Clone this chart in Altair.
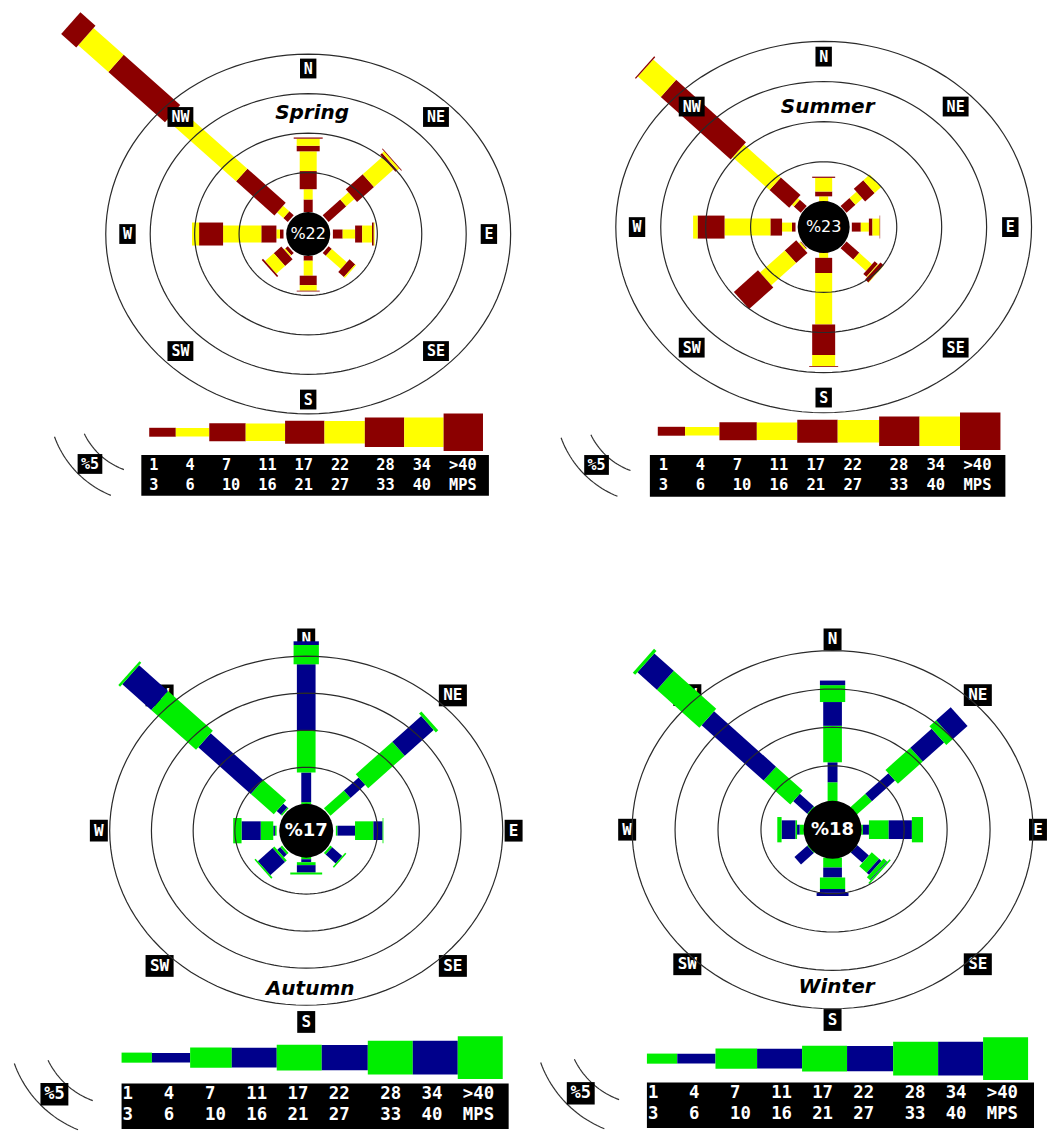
import math
import altair as alt
import pandas as pd

# ---------------- data ----------------
DIRECTIONS = ["N", "NE", "E", "SE", "S", "SW", "W", "NW"]
SEASONS = ["Spring", "Summer", "Autumn", "Winter"]
CALM = [22, 23, 17, 18]                      # % calm shown in the centre
RING_STEP = 5                                # % per ring
SPEED_FROM = ["1", "4", "7", "11", "17", "22", "28", "34", ">40"]
SPEED_TO = ["3", "6", "10", "16", "21", "27", "33", "40", "MPS"]

# % frequency of each speed class (1-3 ... >40 mps) per direction
SPRING = {
    "N":  [1.6, 1.3, 2.3, 2.5, 0.7, 0.9, 0.15, 0, 0],
    "NE": [2.8, 1.3, 2.7, 3.1, 0.3, 0.3, 0.1, 0, 0],
    "E":  [1.1, 1.4, 0.8, 1.1, 0.2, 0.1, 0, 0, 0],
    "SE": [0.5, 2.4, 0.9, 0.15, 0, 0, 0, 0, 0],
    "S":  [0.6, 1.9, 1.2, 0.7, 0.1, 0, 0, 0, 0],
    "SW": [0.4, 0.2, 1.2, 1.4, 0.2, 0, 0, 0, 0],
    "W":  [0.4, 0.4, 1.7, 4.3, 2.7, 0.8, 0, 0, 0],
    "NW": [0.7, 1.0, 6.1, 11.0, 9.0, 4.8, 2.4, 0, 0],
}
SUMMER = {
    "N":  [0.1, 0.6, 0.6, 1.7, 0.15, 0, 0, 0, 0],
    "NE": [1.4, 1.1, 1.5, 1.0, 0, 0, 0, 0, 0],
    "E":  [1.0, 0.9, 0.4, 0.8, 0.05, 0, 0, 0, 0],
    "SE": [2.0, 2.0, 0.5, 0.1, 0.5, 0.05, 0, 0, 0],
    "S":  [0.1, 0.6, 1.9, 6.4, 3.8, 1.4, 0.1, 0, 0],
    "SW": [0.1, 0.2, 1.8, 3.9, 3.8, 0, 0, 0, 0],
    "W":  [0.4, 1.1, 1.3, 5.1, 3.0, 0.5, 0, 0, 0],
    "NW": [1.1, 0.3, 3.1, 5.8, 11.0, 3.6, 0.15, 0, 0],
}
AUTUMN = {
    "N":  [0.3, 4.0, 5.6, 9.0, 2.6, 0.5, 0, 0, 0],
    "NE": [3.4, 2.5, 6.2, 4.9, 0.4, 0, 0, 0, 0],
    "E":  [0.2, 2.1, 2.2, 1.1, 0.1, 0, 0, 0, 0],
    "SE": [0.3, 1.7, 0.2, 0, 0, 0, 0, 0, 0],
    "S":  [0.3, 0.4, 0.4, 1.0, 0, 0, 0.25, 0, 0],
    "SW": [0.3, 0.5, 0.3, 2.5, 0.2, 0, 0, 0, 0],
    "W":  [0.2, 0.2, 1.5, 2.3, 1.0, 0, 0, 0, 0],
    "NW": [0.2, 0.7, 3.9, 8.9, 7.6, 4.9, 0.3, 0, 0],
}
WINTER = {
    "N":  [2.85, 2.6, 4.75, 3.1, 2.2, 0.6, 0, 0, 0],
    "NE": [2.6, 3.8, 4.1, 3.5, 1.1, 2.4, 0, 0, 0],
    "E":  [0.2, 0.7, 2.3, 2.7, 1.3, 0, 0, 0, 0],
    "SE": [0.2, 1.9, 1.2, 0.4, 0.5, 0.1, 0.2, 0, 0],
    "S":  [0.2, 0.1, 1.3, 1.3, 1.5, 0.5, 0, 0.4, 0],
    "SW": [0.3, 2.1, 0, 0, 0, 0, 0, 0, 0],
    "W":  [0.5, 0.3, 0.2, 1.6, 0.5, 0, 0, 0, 0],
    "NW": [0.3, 2.3, 4.4, 10.2, 7.0, 3.2, 0.4, 0, 0],
}
SEASON_DATA = [SPRING, SUMMER, AUTUMN, WINTER]

# ---------------- layout / style (not data) ----------------
H = 1125
ROSE_W = [9, 9, 17, 17, 23, 23, 29, 29, 37]
LEG_H = [9, 8.5, 18, 17.5, 23, 22.5, 30, 30, 38]
LEG_LEN = [27, 34, 37, 40, 40, 41, 40, 40, 40]
TXT_COL = [0, 4, 8, 12, 16, 20, 25, 29, 33]
WARM = ["#8b0000", "#ffff00"]
COOL = ["#00ee00", "#00008b"]

PANELS = [
    dict(cx=312, cy=230, r0=25, k=9.0, e=0.885, hole=22, la=183, lb=167, tdy=-122,
         leg=(151, 489, 430), box=(143, 453, 495, 494), txt=(151, 463, 483, 9.2),
         p5=(91, 462), s=1.0, sl=1.0, colors=WARM, under=False),
    dict(cx=834, cy=223, r0=28.5, k=9.1, e=0.89, hole=26, la=189, lb=172, tdy=-121,
         leg=(666, 1013, 429), box=(658, 453, 1018, 495), txt=(667, 463, 483, 9.35),
         p5=(604, 463), s=1.0, sl=1.0, colors=WARM, under=False),
    dict(cx=310, cy=832, r0=30, k=8.45, e=0.885, hole=27, la=210, lb=193, tdy=160,
         leg=(123, 509, 1061), box=(123, 1087, 515, 1133), txt=(124, 1098, 1119, 10.44),
         p5=(55, 1098), s=1.1, sl=1.13, colors=COOL, under=True),
    dict(cx=843, cy=831, r0=29, k=8.7, e=0.89, hole=29, la=208, lb=192, tdy=159,
         leg=(655, 1041, 1062), box=(655, 1086, 1047, 1132), txt=(656, 1097, 1118, 10.4),
         p5=(588, 1097), s=1.1, sl=1.13, colors=COOL, under=True),
]

# ---------------- build tables ----------------
bars, rings, labs_top, labs_bot, holes, titles = [], [], [], [], [], []
legbars, boxes, legtxt, arcs, keytxt = [], [], [], [], []

for si, (season, data, P) in enumerate(zip(SEASONS, SEASON_DATA, PANELS)):
    cx, cy, r0, k, e = P["cx"], P["cy"], P["r0"], P["k"], P["e"]
    for di, d in enumerate(DIRECTIONS):
        th = math.radians(45 * di)
        cum = 0.0
        for c, v in enumerate(data[d]):
            if v <= 0:
                continue
            ra = r0 + k * cum
            cum += v
            rb = r0 + k * cum
            bars.append(dict(x=cx + ra * math.sin(th), y=cy - e * ra * math.cos(th),
                             x2=cx + rb * math.sin(th), y2=cy - e * rb * math.cos(th),
                             w=ROSE_W[c] * P["s"], color=P["colors"][c % 2]))
    for ri in range(1, 5):
        r = r0 + k * RING_STEP * ri
        for a in range(0, 361, 3):
            t = math.radians(a)
            rings.append(dict(ring=f"{season}{ri}", o=a,
                              x=cx + r * math.sin(t), y=cy - e * r * math.cos(t)))
    fs = 15 if not P["under"] else 16
    hh = 10 if not P["under"] else 11
    for di, d in enumerate(DIRECTIONS):
        th = math.radians(45 * di)
        lx = cx + P["la"] * math.sin(th)
        ly = cy - P["lb"] * math.cos(th)
        hw = 3.5 + 4.8 * len(d) if not P["under"] else 4 + 5.1 * len(d)
        row = dict(x=lx - hw, x2=lx + hw, y=ly - hh, y2=ly + hh, cx=lx, cy=ly, t=d, fs=fs)
        (labs_bot if P["under"] else labs_top).append(row)
    holes.append(dict(x=cx, y=cy, size=(2 * P["hole"]) ** 2, t=f"%{CALM[si]}",
                      fs=16 if not P["under"] else 18,
                      fw="normal" if not P["under"] else "bold"))
    titles.append(dict(x=cx + 4, y=cy + P["tdy"], t=season))
    lx0, lx1, ly = P["leg"]
    span = lx1 - lx0
    tot = sum(LEG_LEN)
    xx = lx0
    for c in range(9):
        ww = span * LEG_LEN[c] / tot
        hh2 = LEG_H[c] * P["sl"] / 2
        legbars.append(dict(x=xx, x2=xx + ww, y=ly - hh2, y2=ly + hh2,
                            color=P["colors"][c % 2]))
        xx += ww
    bx0, by0, bx1, by1 = P["box"]
    boxes.append(dict(x=bx0, x2=bx1, y=by0, y2=by1))
    tx, ty1, ty2, cw = P["txt"]
    for c in range(9):
        legtxt.append(dict(x=tx + cw * TXT_COL[c], y=ty1, t=SPEED_FROM[c], fs=cw / 0.602))
        legtxt.append(dict(x=tx + cw * TXT_COL[c], y=ty2, t=SPEED_TO[c], fs=cw / 0.602))
    px, py = P["p5"]
    sc = P["sl"]
    acx, acy = px + 59 * sc, py - 62 * sc
    for ai, (R, a0, a1) in enumerate([(101, 112, 160), (72, 110, 154)]):
        for a in range(a0, a1 + 1, 2):
            t = math.radians(a)
            arcs.append(dict(arc=f"{season}{ai}", o=a,
                             x=acx + R * sc * math.cos(t), y=acy + R * sc * math.sin(t)))
    boxes.append(dict(x=px - 12.5 * sc, x2=px + 12.5 * sc, y=py - 10 * sc, y2=py + 10 * sc))
    keytxt.append(dict(x=px, y=py, t=f"%{RING_STEP}", fs=15 * sc))

XS = alt.Scale(domain=[8, 1048], nice=False, zero=False)
YS = alt.Scale(domain=[8, 8 + H], nice=False, zero=False, reverse=True)


def X(f="x"):
    return alt.X(f"{f}:Q", scale=XS, axis=None)


def Y(f="y"):
    return alt.Y(f"{f}:Q", scale=YS, axis=None)


def label_layers(rows):
    df = pd.DataFrame(rows)
    box = alt.Chart(df).mark_rect(color="black").encode(
        x=X(), x2="x2", y=Y(), y2="y2")
    txt = alt.Chart(df).mark_text(color="white", font="DejaVu Sans Mono",
                                  fontWeight="bold", baseline="middle", align="center").encode(
        x=X("cx"), y=Y("cy"), text="t:N", size=alt.Size("fs:Q", scale=None))
    return [box, txt]


bar_layer = alt.Chart(pd.DataFrame(bars)).mark_rule(strokeCap="butt").encode(
    x=X(), y=Y(), x2="x2", y2="y2",
    size=alt.Size("w:Q", scale=None),
    color=alt.Color("color:N", scale=None))

ring_layer = alt.Chart(pd.DataFrame(rings)).mark_line(
    color="#2a2a2a", strokeWidth=1.2).encode(
    x=X(), y=Y(), detail="ring:N", order="o:Q")

hole_df = pd.DataFrame(holes)
hole_layer = alt.Chart(hole_df).mark_point(
    shape="circle", filled=True, color="black", opacity=1).encode(
    x=X(), y=Y(), size=alt.Size("size:Q", scale=None))
hole_top = alt.Chart(hole_df[hole_df.fw == "normal"]).mark_text(
    color="white", font="DejaVu Sans", baseline="middle").encode(
    x=X(), y=Y(), text="t:N", size=alt.Size("fs:Q", scale=None))
hole_bot = alt.Chart(hole_df[hole_df.fw == "bold"]).mark_text(
    color="white", font="DejaVu Sans", fontWeight="bold", baseline="middle").encode(
    x=X(), y=Y(), text="t:N", size=alt.Size("fs:Q", scale=None))

title_layer = alt.Chart(pd.DataFrame(titles)).mark_text(
    color="black", font="DejaVu Sans", fontWeight="bold", fontStyle="italic",
    fontSize=20, baseline="middle").encode(x=X(), y=Y(), text="t:N")

legbar_layer = alt.Chart(pd.DataFrame(legbars)).mark_rect().encode(
    x=X(), x2="x2", y=Y(), y2="y2", color=alt.Color("color:N", scale=None))

arc_layer = alt.Chart(pd.DataFrame(arcs)).mark_line(
    color="#333333", strokeWidth=1.2).encode(
    x=X(), y=Y(), detail="arc:N", order="o:Q")

box_layer = alt.Chart(pd.DataFrame(boxes)).mark_rect(color="black").encode(
    x=X(), x2="x2", y=Y(), y2="y2")

legtxt_layer = alt.Chart(pd.DataFrame(legtxt)).mark_text(
    color="white", font="DejaVu Sans Mono", fontWeight="bold",
    align="left", baseline="middle").encode(
    x=X(), y=Y(), text="t:N", size=alt.Size("fs:Q", scale=None))

key_layer = alt.Chart(pd.DataFrame(keytxt)).mark_text(
    color="white", font="DejaVu Sans Mono", fontWeight="bold",
    align="center", baseline="middle").encode(
    x=X(), y=Y(), text="t:N", size=alt.Size("fs:Q", scale=None))

layers = (label_layers(labs_bot) + [bar_layer, ring_layer] + label_layers(labs_top)
          + [hole_layer, hole_top, hole_bot, title_layer, legbar_layer, arc_layer,
             box_layer, legtxt_layer, key_layer])

chart = alt.layer(*layers).properties(
    width=1040, height=H, padding=0,
    autosize=alt.AutoSizeParams(type="fit", contains="padding"),
    background="white",
).configure_view(stroke=None)

chart.save("out.html", embed_options={"renderer": "svg", "actions": False})
